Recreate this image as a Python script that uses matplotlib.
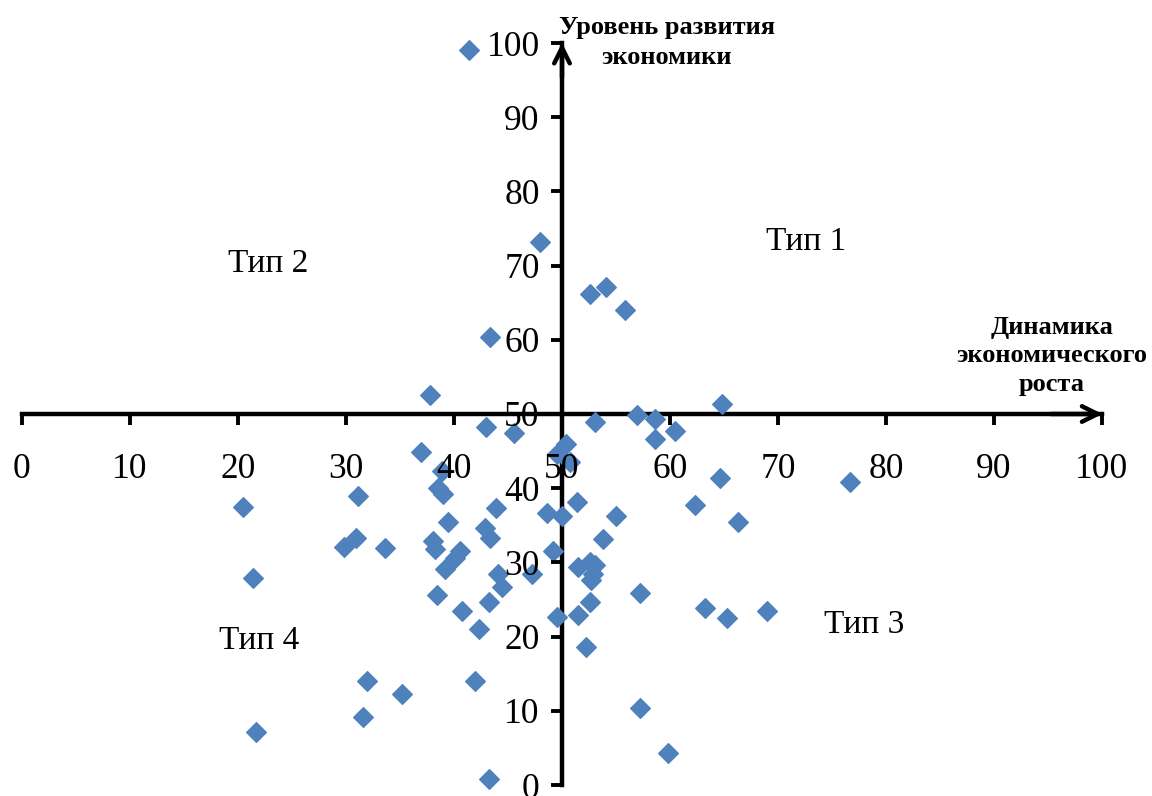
import matplotlib
matplotlib.use('Agg')
import matplotlib.pyplot as plt

plt.rcParams['font.family'] = ['Liberation Serif', 'DejaVu Serif']

# динамика экономического роста (x) / уровень развития экономики (y)
dyn = [41.4, 48.0, 43.3, 37.8,
       52.6, 54.1, 55.8, 64.8, 56.9,
       58.6, 53.1, 43.0, 45.6, 60.5, 58.6, 36.9, 50.4, 49.5, 50.7,
       38.9, 38.5, 39.0, 64.6, 76.7, 31.1, 51.4, 20.5, 43.9, 62.3,
       48.6, 50.0, 55.0, 39.4, 66.3, 42.9, 43.3, 30.9, 53.8, 38.1,
       29.8, 33.6, 38.2, 40.6, 49.2, 40.1, 52.6, 53.1, 51.5, 39.2,
       47.2, 44.1, 52.9, 21.4, 52.7, 44.4, 57.2, 38.4, 43.2, 52.6,
       63.2, 40.7, 69.0, 49.5, 51.5, 65.3, 42.3, 52.2, 41.9, 31.9,
       35.2, 57.2, 31.6, 21.7, 59.8, 43.2]
level = [99.1, 73.2, 60.4, 52.6,
         66.2, 67.1, 64.0, 51.4, 49.9,
         49.3, 48.9, 48.2, 47.4, 47.7, 46.6, 44.9, 46.0, 44.6, 43.5,
         42.3, 40.0, 39.2, 41.4, 40.8, 39.0, 38.1, 37.5, 37.3, 37.7,
         36.6, 36.3, 36.3, 35.4, 35.4, 34.7, 33.3, 33.3, 33.2, 32.9,
         32.1, 32.0, 31.8, 31.5, 31.6, 30.6, 30.1, 29.7, 29.4, 29.1,
         28.5, 28.4, 28.4, 27.9, 27.6, 26.7, 25.9, 25.6, 24.6, 24.7,
         23.8, 23.5, 23.5, 22.6, 22.9, 22.5, 21.0, 18.6, 14.0, 14.0,
         12.3, 10.4, 9.2, 7.1, 4.3, 0.8]

types = ['Тип 1', 'Тип 2', 'Тип 3', 'Тип 4']
type_x = [72.6, 22.8, 78.0, 22.0]
type_y = [73.2, 70.2, 21.6, 19.4]

ticks = list(range(0, 101, 10))

fig = plt.figure(figsize=(11.52, 7.96), dpi=100)
ax = fig.add_axes([22/1152, 11/796, 1080/1152, 742/796])
ax.set_xlim(0, 100)
ax.set_ylim(0, 100)

# оси пересекаются в точке (50, 50)
ax.spines['left'].set_position(('data', 50))
ax.spines['bottom'].set_position(('data', 50))
ax.spines['top'].set_visible(False)
ax.spines['right'].set_visible(False)
for s in ['left', 'bottom']:
    ax.spines[s].set_linewidth(3.2)
    ax.spines[s].set_zorder(2)

ax.set_xticks(ticks)
ax.set_yticks(ticks)
ax.tick_params(axis='both', direction='out', length=8, width=2.8, labelsize=25.5)
ax.tick_params(axis='x', pad=20)
ax.tick_params(axis='y', pad=8)
ax.xaxis.set_zorder(4)
ax.yaxis.set_zorder(4)

# стрелки на концах осей
ax.annotate('', xy=(100.3, 50), xytext=(95, 50),
            arrowprops=dict(arrowstyle='->', lw=3.2, mutation_scale=28),
            annotation_clip=False, zorder=2)
ax.annotate('', xy=(50, 100.4), xytext=(50, 95),
            arrowprops=dict(arrowstyle='->', lw=3.2, mutation_scale=28),
            annotation_clip=False, zorder=2)

ax.scatter(dyn, level, marker='D', s=100, color='#4F81BD', clip_on=False, zorder=3)

for t, tx, ty in zip(types, type_x, type_y):
    ax.text(tx, ty, t, fontsize=24, ha='center', va='center', zorder=5)

fig.text(667/1152, 0.980, 'Уровень развития\nэкономики', fontsize=19,
         fontweight='bold', ha='center', va='top', linespacing=1.4)
fig.text(1052/1152, 0.603, 'Динамика\nэкономического\nроста', fontsize=19,
         fontweight='bold', ha='center', va='top', linespacing=1.3)

fig.savefig('out.png', dpi=100)
